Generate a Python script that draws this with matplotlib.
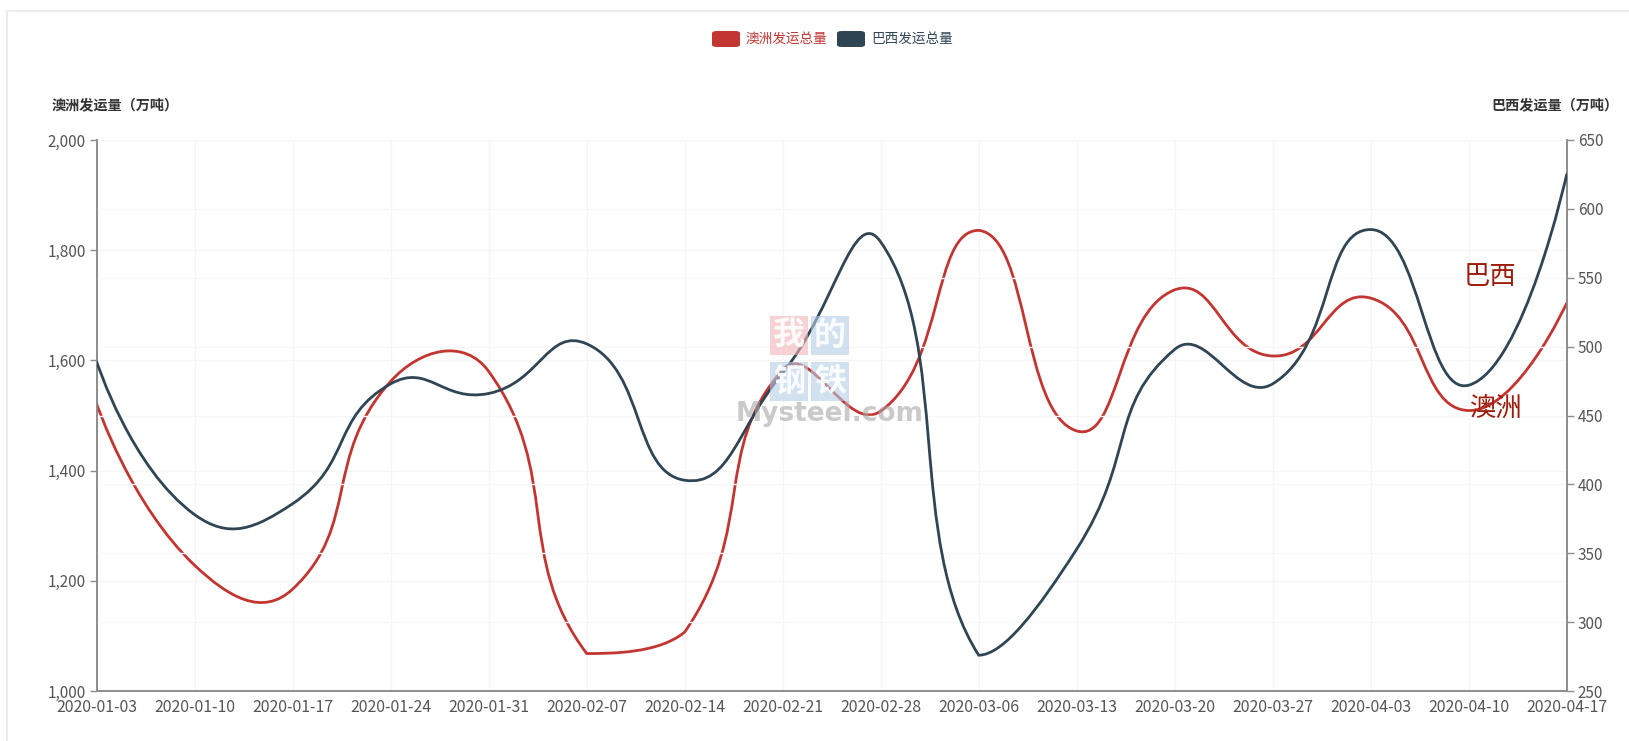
import matplotlib
matplotlib.use("Agg")
import matplotlib.pyplot as plt
from matplotlib.path import Path
from matplotlib.patches import PathPatch, FancyBboxPatch, Rectangle
import numpy as np

plt.rcParams['font.family'] = ['Noto Sans CJK SC', 'DejaVu Sans']

dates = ["2020-01-03", "2020-01-10", "2020-01-17", "2020-01-24", "2020-01-31",
         "2020-02-07", "2020-02-14", "2020-02-21", "2020-02-28", "2020-03-06",
         "2020-03-13", "2020-03-20", "2020-03-27", "2020-04-03", "2020-04-10",
         "2020-04-17"]
australia = [1521, 1228, 1185, 1562, 1580, 1068, 1107, 1583, 1508, 1836,
             1472, 1728, 1608, 1713, 1509, 1704]
brazil = [489, 378, 386, 473, 466, 502, 403, 481, 576, 276,
          353, 498, 473, 585, 472, 625]
left_ticks = [1000, 1200, 1400, 1600, 1800, 2000]
right_ticks = [250, 300, 350, 400, 450, 500, 550, 600, 650]

RED = '#c23531'
NAVY = '#2f4554'

W, H = 1629, 741
fig = plt.figure(figsize=(W / 100, H / 100), dpi=100)
L, R, T, B = 96.7, 1566.7, 140, 691
ax = fig.add_axes([L / W, 1 - B / H, (R - L) / W, (B - T) / H])
ax2 = ax.twinx()

n = len(dates)
ax.set_xlim(0, n - 1)
ax.set_ylim(1000, 2000)
ax2.set_ylim(250, 650)

px_x = (R - L) / (n - 1)
px_yl = (B - T) / 1000.0
px_yr = (B - T) / 400.0


def smooth_path(xs, ys, sx, sy, smooth=0.5):
    """Smoothed polyline in the style of zrender (with bbox smooth constraint)."""
    P = np.column_stack([np.array(xs, float) * sx, np.array(ys, float) * sy])
    m = len(P)
    lo = P.min(axis=0)
    hi = P.max(axis=0)
    verts = [P[0].copy()]
    codes = [Path.MOVETO]
    cp0 = P[0].copy()
    for i in range(1, m):
        p = P[i]
        prev = P[i - 1]
        if i < m - 1:
            nxt = P[i + 1]
            v = nxt - prev
            lp = np.linalg.norm(p - prev)
            ln = np.linalg.norm(p - nxt)
            r = ln / (ln + lp) if (ln + lp) > 0 else 0.5
            cp1 = p - v * smooth * (1 - r)
        else:
            v = np.zeros(2)
            r = 0.5
            cp1 = p.copy()
        cp0 = np.minimum(np.maximum(cp0, lo), hi)
        cp1 = np.minimum(np.maximum(cp1, lo), hi)
        verts += [cp0.copy(), cp1.copy(), p.copy()]
        codes += [Path.CURVE4] * 3
        cp0 = p + v * smooth * r
    verts = np.array(verts)
    verts[:, 0] /= sx
    verts[:, 1] /= sy
    return Path(verts, codes)


xs = np.arange(n)
# grid lines
for x in xs:
    ax.axvline(x, color='#f5f5f5', lw=1, zorder=0)
for y in left_ticks:
    ax.axhline(y, color='#f6f6f6', lw=1, zorder=0)
for y in right_ticks:
    ax2.axhline(y, color='#f7f7fa', lw=1, zorder=0)

ax.add_patch(PathPatch(smooth_path(xs, australia, px_x, px_yl), fill=False,
                       edgecolor=RED, lw=2, zorder=3, capstyle='round'))
ax2.add_patch(PathPatch(smooth_path(xs, brazil, px_x, px_yr), fill=False,
                        edgecolor=NAVY, lw=2, zorder=3, capstyle='round'))

axis_col = '#8c8c8c'
lab_col = '#555555'
for a in (ax, ax2):
    a.spines['top'].set_visible(False)
    for s in ('left', 'right', 'bottom'):
        a.spines[s].set_color(axis_col)
        a.spines[s].set_linewidth(1.2)
    a.patch.set_visible(False)

TF = 11
ax.set_xticks(xs)
ax.set_xticklabels(dates, fontsize=11.4, color=lab_col)
ax.tick_params(axis='x', length=0, pad=6)
ax.set_yticks(left_ticks)
ax.set_yticklabels([f"{v:,}" for v in left_ticks], fontsize=TF, color=lab_col)
ax.tick_params(axis='y', length=5, width=1, color=axis_col, pad=3)
ax2.set_yticks(right_ticks)
ax2.set_yticklabels([str(v) for v in right_ticks], fontsize=TF, color=lab_col)
ax2.tick_params(axis='y', length=5, width=1, color=axis_col, pad=3)

# axis titles
fig.text(115 / W, 1 - 105 / H, "澳洲发运量（万吨）", ha='center', va='center',
         fontsize=10.2, color='#333333', fontweight='bold')
fig.text(1555 / W, 1 - 105 / H, "巴西发运量（万吨）", ha='center', va='center',
         fontsize=10.2, color='#333333', fontweight='bold')

# legend
for (x0, col, name) in [(712, RED, "澳洲发运总量"), (837, NAVY, "巴西发运总量")]:
    fig.patches.append(FancyBboxPatch((x0 / W, 1 - 47 / H), 28 / W, 16 / H,
                                      boxstyle="round,pad=0,rounding_size=0.003",
                                      transform=fig.transFigure, facecolor=col,
                                      edgecolor='none'))
    fig.text((x0 + 34) / W, 1 - 38.5 / H, name, ha='left', va='center',
             fontsize=9.8, color=col)

# series labels
fig.text(1490 / W, 1 - 276 / H, "巴西", ha='center', va='center', fontsize=19,
         color='#9b1c0a')
fig.text(1495 / W, 1 - 408 / H, "澳洲", ha='center', va='center', fontsize=19,
         color='#9b1c0a')

# watermark
tiles = [(770, 316, '#f2b5b8', "我"), (811, 316, '#b5cde6', "的"),
         (770, 362, '#b5cde6', "钢"), (811, 362, '#b5cde6', "铁")]
for (x0, y0, c, ch) in tiles:
    fig.patches.append(Rectangle((x0 / W, 1 - (y0 + 39) / H), 38 / W, 39 / H,
                                 transform=fig.transFigure, facecolor=c,
                                 edgecolor='none', alpha=0.6, zorder=5))
    fig.text((x0 + 19) / W, 1 - (y0 + 19.5) / H, ch, ha='center', va='center',
             fontsize=23, color='white', alpha=0.9, fontweight='bold', zorder=6)
fig.text(830 / W, 1 - 414 / H, "Mysteel.com", ha='center', va='center',
         fontsize=19, color='#a8a8a8', alpha=0.6, fontweight='bold',
         family='DejaVu Sans', zorder=6)

# outer border
fig.patches.append(Rectangle((7 / W, -0.05), 1.2, 1 - 10.5 / H + 0.05,
                             transform=fig.transFigure, facecolor='none',
                             edgecolor='#ececec', lw=1.5))

fig.savefig("out.png", dpi=100)
